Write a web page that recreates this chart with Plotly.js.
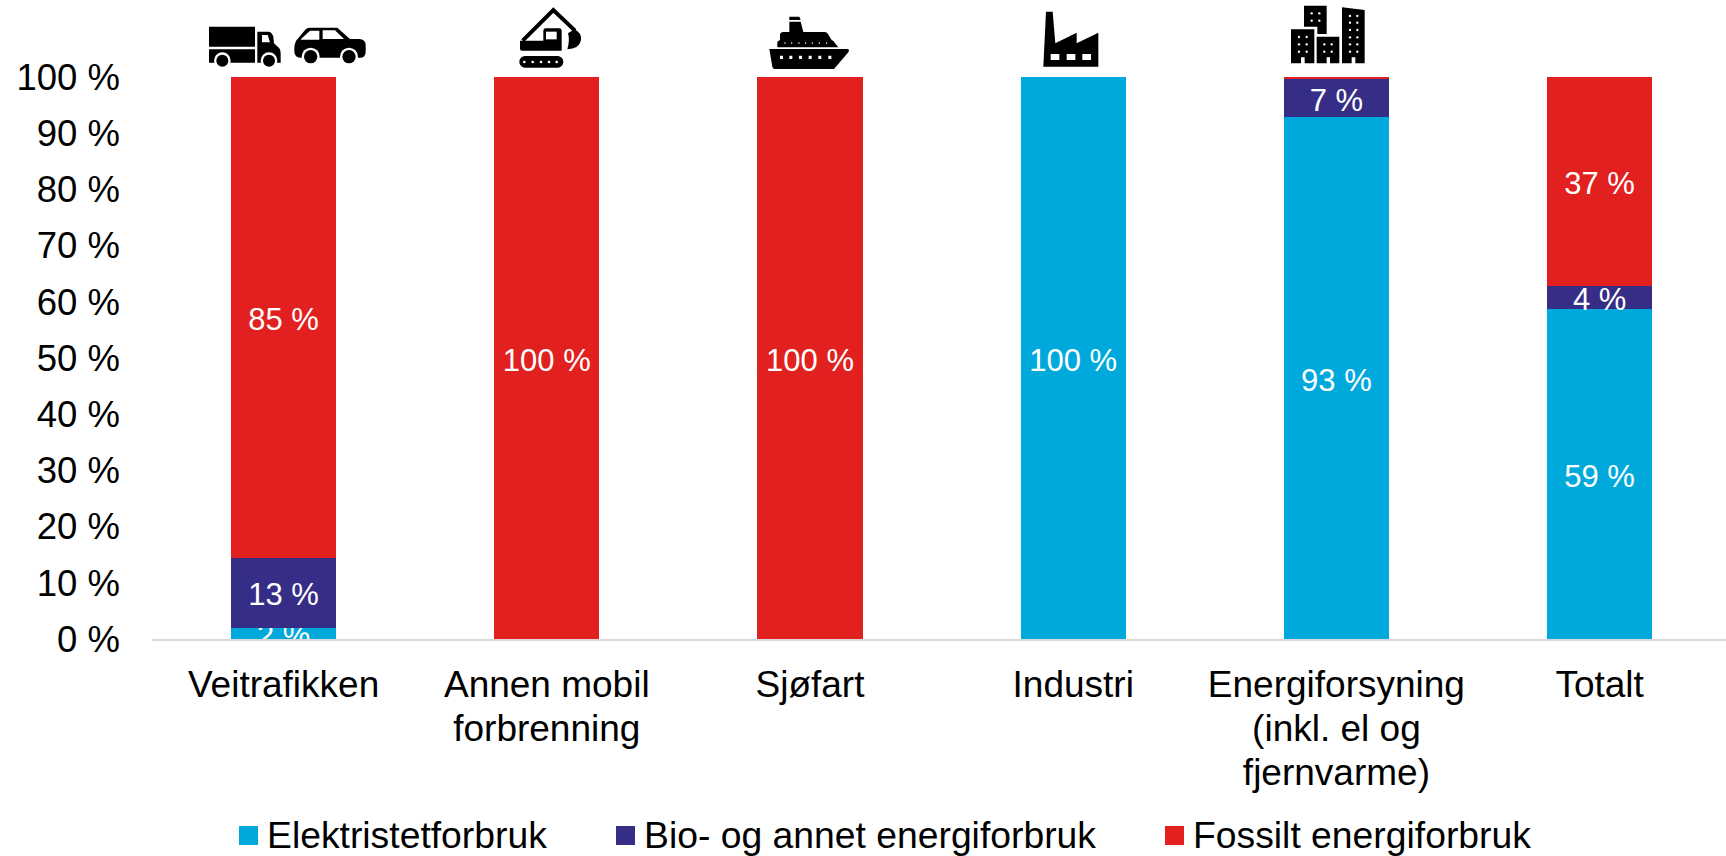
<!DOCTYPE html>
<html>
<head>
<meta charset="utf-8">
<script src="https://cdn.plot.ly/plotly-3.0.1.min.js"></script>
<style>html,body{margin:0;padding:0;background:#fff}</style>
</head>
<body>
<div id="chart" style="width:1726px;height:856px"></div>
<script>
const categories = ["Veitrafikken", "Annen mobil<br>forbrenning", "Sjøfart", "Industri", "Energiforsyning<br>(inkl. el og<br>fjernvarme)", "Totalt"];
const seriesNames = ["Elektristetforbruk", "Bio- og annet energiforbruk", "Fossilt energiforbruk"];
const elektrisitet = [2, 0, 0, 100, 92.8, 58.7];
const bio = [12.5, 0, 0, 0, 6.8, 4.1];
const fossilt = [85.5, 100, 100, 0, 0.4, 37.2];
const elektrisitetLabels = ["2 %", "", "", "100 %", "93 %", "59 %"];
const bioLabels = ["13 %", "", "", "", "7 %", "4 %"];
const fossiltLabels = ["85 %", "100 %", "100 %", "", "", "37 %"];
const yTicks = [0, 10, 20, 30, 40, 50, 60, 70, 80, 90, 100];
const colors = ["#00A9DC", "#362D87", "#E1201F"];

const FONT = "Liberation Sans, Arial, sans-serif";
const L = 152, B = 639, T = 77, W = 1574;
const px = x => (x - L) / W;
const py = y => (B - y) / (B - T);

function barTrace(i, y, text) {
  return {
    type: "bar", name: seriesNames[i], x: categories, y: y, text: text,
    textposition: "inside", insidetextanchor: "middle", textangle: 0,
    constraintext: "none", cliponaxis: true, hoverinfo: "none",
    insidetextfont: {family: FONT, size: 31, color: "#ffffff"},
    marker: {color: colors[i], line: {width: 0}}
  };
}

const dots = (pts, r) => pts.map(p => `<circle cx="${p[0]}" cy="${p[1]}" r="${r}" fill="#fff"/>`).join("");
const wheel = (x, y, r, ring) => `<circle cx="${x}" cy="${y}" r="${ring}" fill="#fff"/><circle cx="${x}" cy="${y}" r="${r}" fill="#000"/>`;

const icons = [
  {x: 200, y: 15, w: 180, h: 60, svg:
    `<path d="M27,35H165V95H27ZM27,103H165V143H27Z"/>
     <path d="M172,50H205Q215,50 220,65L222,85L238,100Q242,105 242,115V143H172Z"/>
     <path d="M186,60H203L210,82H186Z" fill="#fff"/>` + wheel(67, 137, 18, 25) + wheel(207, 137, 18, 25) +
    `<path d="M283,100V110Q283,128 305,128H480Q497,128 497,110V90Q497,75 480,72H450L412,38H330Q320,38 315,45L295,70Q283,80 283,100Z"/>
     <path d="M303,72L330,47H358V74H303ZM368,46H405L432,72H368Z" fill="#fff"/>` + wheel(332, 125, 20, 27) + wheel(447, 125, 20, 27)},
  {x: 510, y: 0, w: 90, h: 75, svg:
    `<path d="M38,122L130,30L195,92" fill="none" stroke="#000" stroke-width="12"/>
     <path d="M30,122H100V92Q100,85 107,85H148Q155,85 155,92V152H36Q30,152 30,146Z"/>
     <path d="M108,95H140V118H108Z" fill="#fff"/>
     <path d="M193,88Q215,98 213,120Q208,146 172,148Q180,120 174,100Z"/>
     <rect x="28" y="168" width="132" height="35" rx="17"/>` + dots([[43,186],[68,186],[93,186],[117,186],[140,186]], 4)},
  {x: 760, y: 10, w: 100, h: 65, svg:
    `<path d="M28,117H262Q270,118 265,127L222,177H45Q38,177 37,170Z"/>
     <path d="M52,110V95L60,90V72Q62,66 70,66H88V35H122L130,66H195Q200,66 204,72L215,90Q222,92 225,100L235,112H52Z"/>
     <path d="M88,20H118L122,30H88Z"/>
     <path d="M60,137h9v10h-9ZM88,137h9v10h-9ZM117,137h9v10h-9ZM146,137h9v10h-9ZM175,137h9v10h-9ZM205,137h9v10h-9Z" fill="#fff"/>` +
    dots([[75,99],[95,99],[117,99],[137,99],[157,99],[178,99],[200,99]], 2.2)},
  {x: 1030, y: 0, w: 90, h: 75, svg:
    `<path d="M48,35H68L76,130L140,98V130L205,98V200H40Z"/>
     <path d="M62,162H88V180H62ZM110,162H136V180H110ZM157,162H183V180H157Z" fill="#fff"/>`},
  {x: 1280, y: 0, w: 100, h: 75, svg:
    `<path d="M72,17H140V102H112V80H72Z"/>
     <path d="M33,88H103V190H74V172H63V190H33Z"/>
     <path d="M110,110H178V190H150V172H140V190H110Z"/>
     <path d="M186,22L254,30V190H226V172H215V190H186Z"/>` +
    dots([[95,40],[118,40],[95,62],[118,62],[57,111],[80,111],[57,133],[80,133],[57,155],[80,155],
          [133,133],[155,133],[133,155],[155,155],[210,48],[232,48],[210,68],[232,68],[210,90],[232,90],
          [210,112],[232,112],[210,133],[232,133],[210,155],[232,155]], 3.5)}
];

const images = icons.map(ic => ({
  source: "data:image/svg+xml;charset=utf-8," + encodeURIComponent(
    `<svg xmlns="http://www.w3.org/2000/svg" width="${ic.w * 3}" height="${ic.h * 3}" viewBox="0 0 ${ic.w * 3} ${ic.h * 3}">${ic.svg}</svg>`),
  xref: "paper", yref: "paper", x: px(ic.x), y: py(ic.y),
  sizex: ic.w / W, sizey: ic.h / (B - T), xanchor: "left", yanchor: "top",
  sizing: "stretch", layer: "above"
}));

const legendMarkerX = [239, 616, 1165];
const legendTextX = [267, 644, 1193];
const legendShapes = seriesNames.map((n, i) => ({
  type: "rect", xref: "paper", yref: "paper", layer: "above", line: {width: 0},
  fillcolor: colors[i], x0: px(legendMarkerX[i]), x1: px(legendMarkerX[i] + 19), y0: py(845), y1: py(826)
}));
const legendLabels = seriesNames.map((n, i) => ({
  text: n, showarrow: false, xref: "paper", yref: "paper",
  x: px(legendTextX[i]), y: py(835), xanchor: "left", yanchor: "middle",
  xshift: -2, font: {family: FONT, size: 37.3, color: "#000"}
}));

const data = [barTrace(0, elektrisitet, elektrisitetLabels), barTrace(1, bio, bioLabels), barTrace(2, fossilt, fossiltLabels)];
const layout = {
  width: 1726, height: 856, paper_bgcolor: "#fff", plot_bgcolor: "#fff",
  margin: {l: L, r: 0, t: T, b: 856 - B, pad: 0},
  barmode: "stack", bargap: 0.6, showlegend: false, hovermode: false,
  font: {family: FONT, color: "#000"},
  xaxis: {
    type: "category", range: [-0.5, -0.5 + W / 263.2], showgrid: false, zeroline: false,
    showline: true, linecolor: "#D9D9D9", linewidth: 2, ticks: "", ticklabelstandoff: 12,
    tickangle: 0, tickfont: {family: FONT, size: 37, color: "#000"}, fixedrange: true
  },
  yaxis: {
    range: [0, 100], tickmode: "array", tickvals: yTicks, ticktext: yTicks.map(v => v + " %"),
    showgrid: false, zeroline: false, showline: false, ticks: "", ticklabelstandoff: 31,
    tickfont: {family: FONT, size: 36.5, color: "#000"}, fixedrange: true
  },
  shapes: legendShapes, annotations: legendLabels, images: images
};
Plotly.newPlot("chart", data, layout, {displayModeBar: false, responsive: false}).then(gd => {
  // tighter line spacing for the multi-line category labels
  gd.querySelectorAll(".xtick text").forEach(t => {
    t.querySelectorAll("tspan.line").forEach((l, i) => {
      const n = parseFloat(l.getAttribute("dy")) / 1.3;
      if (isFinite(n)) l.setAttribute("dy", (n * 44) + "px");
    });
  });
  // data labels sit a touch lower in the reference
  gd.querySelectorAll(".bars text.bartext").forEach(t => {
    t.setAttribute("transform", "translate(0,2) " + (t.getAttribute("transform") || ""));
  });
});
</script>
</body>
</html>
